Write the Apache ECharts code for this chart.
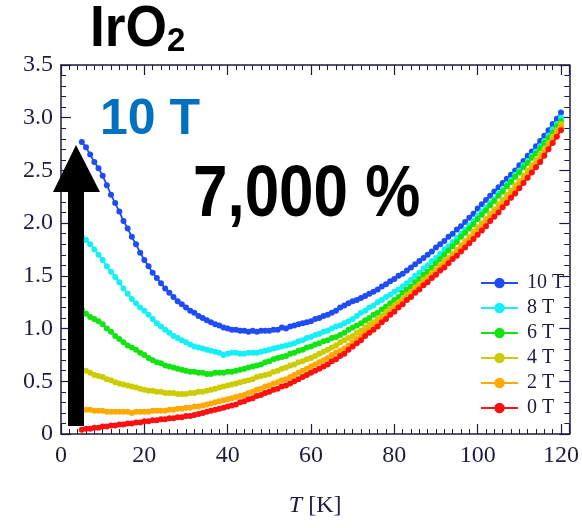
<!DOCTYPE html>
<html>
<head>
<meta charset="utf-8">
<script src="https://cdn.jsdelivr.net/npm/echarts@6/dist/echarts.min.js"></script>
<style>html,body{margin:0;padding:0;background:#fff}#c{width:582px;height:528px}</style>
</head>
<body>
<div id="c"></div>
<script>
// Temperature (K)
const temps = [5,6,7,8,9,10,11,12,13,14,15,16,17,18,19,20,21,22,23,24,25,26,27,28,29,30,31,32,33,34,35,36,37,38,39,40,41,42,43,44,45,46,47,48,49,50,51,52,53,54,55,56,57,58,59,60,61,62,63,64,65,66,67,68,69,70,71,72,73,74,75,76,77,78,79,80,81,82,83,84,85,86,87,88,89,90,91,92,93,94,95,96,97,98,99,100,101,102,103,104,105,106,107,108,109,110,111,112,113,114,115,116,117,118,119,120];
const seriesNames = ['10 T','8 T','6 T','4 T','2 T','0 T'];
const r10T = [2.77,2.72,2.65,2.58,2.52,2.45,2.36,2.27,2.19,2.11,2.02,1.95,1.87,1.80,1.72,1.65,1.59,1.53,1.48,1.43,1.38,1.34,1.30,1.26,1.23,1.20,1.17,1.15,1.12,1.10,1.08,1.06,1.04,1.03,1.01,1.00,0.99,0.99,0.98,0.98,0.97,0.98,0.97,0.98,0.98,0.98,0.99,0.99,1.01,1.00,1.02,1.03,1.04,1.05,1.06,1.07,1.09,1.10,1.12,1.13,1.15,1.17,1.20,1.22,1.24,1.26,1.27,1.29,1.31,1.33,1.35,1.37,1.40,1.42,1.45,1.47,1.50,1.52,1.55,1.58,1.61,1.64,1.67,1.70,1.73,1.77,1.80,1.83,1.87,1.90,1.94,1.97,2.01,2.05,2.09,2.14,2.18,2.22,2.26,2.30,2.34,2.38,2.42,2.46,2.50,2.55,2.59,2.64,2.68,2.73,2.78,2.83,2.88,2.94,2.99,3.05];
const r8T = [1.87,1.84,1.80,1.75,1.70,1.65,1.59,1.54,1.49,1.44,1.38,1.33,1.28,1.24,1.20,1.17,1.13,1.09,1.05,1.02,0.99,0.96,0.93,0.91,0.89,0.87,0.85,0.83,0.82,0.81,0.80,0.79,0.78,0.77,0.75,0.76,0.77,0.77,0.76,0.76,0.77,0.77,0.77,0.78,0.79,0.80,0.81,0.82,0.83,0.84,0.85,0.86,0.88,0.89,0.91,0.92,0.94,0.95,0.97,0.98,1.00,1.02,1.03,1.05,1.07,1.09,1.12,1.15,1.17,1.20,1.22,1.25,1.27,1.30,1.32,1.35,1.37,1.40,1.43,1.46,1.50,1.53,1.57,1.60,1.64,1.67,1.71,1.75,1.78,1.82,1.86,1.90,1.94,1.98,2.02,2.07,2.11,2.15,2.19,2.23,2.28,2.32,2.37,2.41,2.46,2.50,2.55,2.59,2.64,2.68,2.73,2.78,2.83,2.89,2.94,3.00];
const r6T = [1.18,1.14,1.11,1.09,1.07,1.04,1.00,0.97,0.93,0.90,0.87,0.84,0.82,0.80,0.77,0.75,0.72,0.70,0.68,0.67,0.65,0.64,0.63,0.62,0.61,0.60,0.59,0.59,0.58,0.58,0.57,0.57,0.58,0.58,0.58,0.59,0.59,0.60,0.61,0.62,0.63,0.64,0.65,0.66,0.68,0.69,0.71,0.72,0.73,0.74,0.76,0.77,0.79,0.80,0.82,0.83,0.85,0.86,0.88,0.89,0.91,0.92,0.94,0.96,0.99,1.01,1.03,1.05,1.08,1.10,1.13,1.15,1.18,1.21,1.24,1.27,1.30,1.34,1.37,1.40,1.44,1.47,1.51,1.54,1.58,1.62,1.66,1.70,1.74,1.78,1.82,1.87,1.91,1.95,1.99,2.04,2.08,2.12,2.17,2.21,2.26,2.30,2.35,2.39,2.44,2.48,2.53,2.57,2.62,2.66,2.71,2.76,2.81,2.86,2.92,2.97];
const r4T = [0.61,0.60,0.58,0.56,0.55,0.54,0.52,0.51,0.49,0.48,0.47,0.46,0.45,0.44,0.43,0.42,0.41,0.41,0.40,0.40,0.39,0.39,0.39,0.38,0.38,0.38,0.39,0.39,0.40,0.40,0.41,0.42,0.43,0.44,0.45,0.46,0.47,0.48,0.49,0.50,0.51,0.52,0.54,0.55,0.56,0.57,0.59,0.60,0.62,0.63,0.65,0.66,0.68,0.69,0.71,0.72,0.74,0.76,0.78,0.80,0.82,0.84,0.87,0.89,0.91,0.93,0.96,0.98,1.01,1.04,1.06,1.09,1.12,1.15,1.19,1.22,1.25,1.28,1.32,1.35,1.39,1.42,1.46,1.49,1.53,1.56,1.60,1.64,1.67,1.71,1.75,1.79,1.83,1.87,1.92,1.96,2.00,2.04,2.09,2.13,2.18,2.22,2.27,2.31,2.36,2.40,2.45,2.50,2.55,2.60,2.65,2.70,2.76,2.82,2.88,2.94];
const r2T = [0.24,0.23,0.23,0.22,0.22,0.22,0.21,0.21,0.21,0.21,0.21,0.21,0.20,0.21,0.21,0.21,0.21,0.22,0.22,0.22,0.22,0.23,0.23,0.24,0.24,0.25,0.25,0.26,0.26,0.27,0.28,0.29,0.30,0.31,0.32,0.33,0.34,0.35,0.36,0.37,0.39,0.40,0.42,0.43,0.45,0.46,0.48,0.49,0.51,0.52,0.54,0.56,0.58,0.60,0.62,0.64,0.66,0.68,0.70,0.72,0.75,0.77,0.79,0.81,0.84,0.87,0.90,0.93,0.96,0.99,1.02,1.05,1.09,1.12,1.16,1.19,1.23,1.26,1.30,1.33,1.37,1.40,1.44,1.47,1.51,1.54,1.58,1.62,1.65,1.69,1.73,1.77,1.81,1.85,1.89,1.93,1.97,2.01,2.05,2.10,2.14,2.18,2.23,2.27,2.32,2.37,2.41,2.46,2.51,2.56,2.61,2.67,2.73,2.79,2.85,2.91];
const r0T = [0.04,0.05,0.05,0.06,0.06,0.07,0.07,0.08,0.08,0.09,0.09,0.10,0.10,0.11,0.11,0.12,0.12,0.13,0.13,0.14,0.14,0.15,0.15,0.16,0.16,0.17,0.17,0.18,0.19,0.20,0.21,0.22,0.23,0.24,0.25,0.26,0.27,0.28,0.30,0.31,0.33,0.34,0.36,0.37,0.39,0.40,0.42,0.43,0.45,0.46,0.48,0.50,0.52,0.54,0.56,0.58,0.60,0.62,0.64,0.66,0.69,0.71,0.74,0.76,0.80,0.83,0.86,0.89,0.93,0.96,0.99,1.02,1.06,1.09,1.13,1.16,1.20,1.23,1.27,1.30,1.34,1.37,1.41,1.44,1.48,1.51,1.55,1.58,1.62,1.66,1.69,1.73,1.77,1.81,1.85,1.89,1.93,1.97,2.02,2.06,2.10,2.15,2.19,2.24,2.28,2.33,2.38,2.43,2.48,2.53,2.58,2.64,2.70,2.76,2.82,2.88];
const seriesValues = [r10T, r8T, r6T, r4T, r2T, r0T];
const seriesColors = ['#1f4cf5','#14f0f5','#12e412','#cccc00','#ffaa00','#ff1010'];
const xTickLabels = ['0','20','40','60','80','100','120'];
const yTickLabels = ['0','0.5','1.0','1.5','2.0','2.5','3.0','3.5'];

const navy = '#1c1d3e';
const serif = '"Liberation Serif", "DejaVu Serif", serif';
const sans = '"Liberation Sans", Arial, sans-serif';

function axisCommon(show, pos, isX) {
  return {
    type: 'value',
    position: pos,
    min: 0,
    max: isX ? 122 : 3.5,
    interval: isX ? 20 : 0.5,
    axisLine: { show: true, onZero: false, lineStyle: { color: navy, width: 1.5 } },
    axisTick: { show: true, inside: true, length: 10, lineStyle: { color: navy, width: 1.2 } },
    minorTick: { show: true, splitNumber: isX ? 10 : 5, length: 5, lineStyle: { color: navy, width: 1 } },
    splitLine: { show: false },
    axisLabel: {
      show: show,
      color: navy,
      fontFamily: serif,
      fontSize: 24,
      margin: isX ? 10 : 8,
      formatter: function (v) {
        if (isX) {
          const i = xTickLabels.indexOf(String(Math.round(v)));
          return (Math.abs(v - Math.round(v)) < 1e-6 && i >= 0) ? xTickLabels[i] : '';
        }
        const k = Math.round(v / 0.5);
        return (Math.abs(v - k * 0.5) < 1e-6 && yTickLabels[k] !== undefined) ? yTickLabels[k] : '';
      }
    }
  };
}

const chart = echarts.init(document.getElementById('c'), null, { renderer: 'canvas' });
const xBottom = axisCommon(true, 'bottom', true);
xBottom.name = '{i|T} [K]';
xBottom.nameLocation = 'middle';
xBottom.nameGap = 60;
xBottom.nameTextStyle = {
  color: navy, fontFamily: serif, fontSize: 24,
  rich: { i: { fontStyle: 'italic', fontFamily: serif, fontSize: 24, color: navy } }
};
const xTop = axisCommon(false, 'top', true);
const yLeft = axisCommon(true, 'left', false);
const yRight = axisCommon(false, 'right', false);

const series = seriesNames.map(function (name, k) {
  return {
    name: name,
    type: 'line',
    xAxisIndex: 0,
    yAxisIndex: 0,
    symbol: 'circle',
    symbolSize: 6,
    showSymbol: true,
    color: seriesColors[k],
    lineStyle: { width: 1.8, color: seriesColors[k] },
    itemStyle: { color: seriesColors[k] },
    data: temps.map(function (t, i) { return [t, seriesValues[k][i]]; }),
    z: 2 + k
  };
});

chart.setOption({
  animation: false,
  backgroundColor: '#ffffff',
  grid: { left: 61, right: 9, top: 65, bottom: 94, containLabel: false },
  xAxis: [xBottom, xTop],
  yAxis: [yLeft, yRight],
  legend: {
    orient: 'vertical',
    left: 480,
    top: 273,
    padding: 0,
    itemWidth: 37,
    itemHeight: 13,
    itemGap: 5,
    textStyle: { color: navy, fontFamily: serif, fontSize: 20, padding: [0, 0, 0, 4] },
    data: seriesNames
  },
  series: series,
  graphic: [
    { type: 'text', x: 90, y: 30, scaleX: 0.92,
      style: { text: 'IrO', fill: '#000', font: 'bold 58px ' + sans, verticalAlign: 'middle', align: 'left' }, z: 100 },
    { type: 'text', x: 167, y: 42,
      style: { text: '2', fill: '#000', font: 'bold 33px ' + sans, verticalAlign: 'middle', align: 'left' }, z: 100 },
    { type: 'text', x: 100, y: 120,
      style: { text: '10 T', fill: '#0070c0', font: 'bold 50px ' + sans, verticalAlign: 'middle', align: 'left' }, z: 100 },
    { type: 'text', x: 193, y: 196, scaleX: 0.86,
      style: { text: '7,000 %', fill: '#000', font: 'bold 72px ' + sans, verticalAlign: 'middle', align: 'left' }, z: 100 },
    { type: 'polygon', z: 100,
      shape: { points: [[68,426],[84,426],[84,192],[100,192],[76,145],[53,192],[68,192]] },
      style: { fill: '#000' } }
  ]
});
</script>
</body>
</html>
